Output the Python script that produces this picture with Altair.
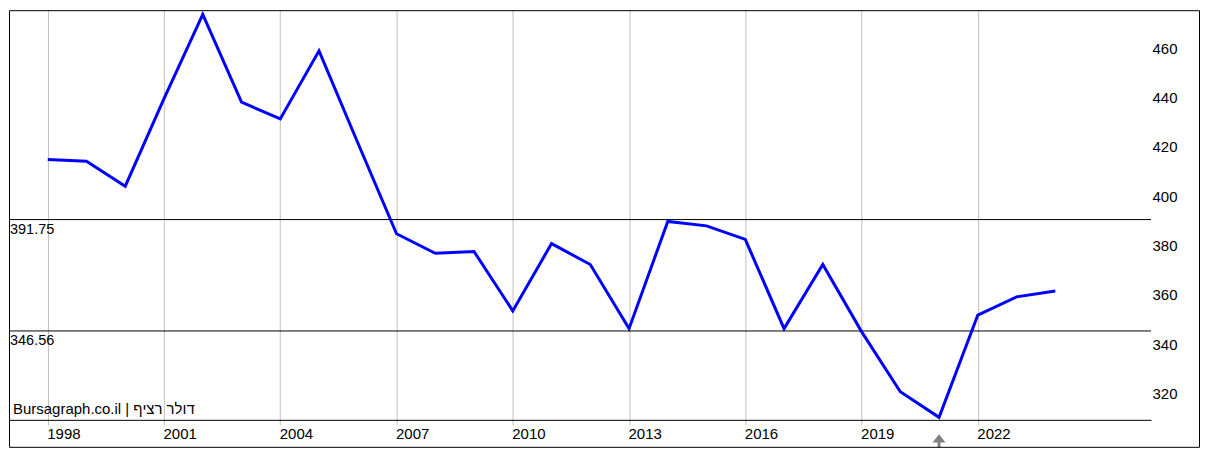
import altair as alt
import pandas as pd

# ---- data ----
years = list(range(1998, 2025))
values = [416.1, 415.4, 405.3, 440.8, 475.0, 439.4, 432.6, 460.2, 422.9,
          386.0, 378.1, 378.8, 354.7, 382.0, 373.5, 347.5, 391.0, 389.2,
          383.7, 347.5, 373.5, 346.3, 321.9, 311.5, 353.0, 360.4, 362.8]
ref_levels = [391.75, 346.56]
ref_texts = ["391.75", "346.56"]
x_ticks = [1998, 2001, 2004, 2007, 2010, 2013, 2016, 2019, 2022]
y_ticks = [320, 340, 360, 380, 400, 420, 440, 460]
marker_year = [2021]
watermark = ["Bursagraph.co.il | דולר רציף"]

W, H = 1143, 410
TOTAL_W, TOTAL_H = 1192, 438
FONT = "Liberation Sans"
GRID = "#c4c0b8"

df = pd.DataFrame({"year": years, "value": values})
refs = pd.DataFrame({"level": ref_levels, "label": ref_texts})
mk = pd.DataFrame({"year": marker_year})
wm = pd.DataFrame({"t": watermark})
box = pd.DataFrame({"k": [0]})

x_scale = alt.Scale(domain=[1997, 2026.47], nice=False, zero=False)
y_scale = alt.Scale(domain=[310.5, 476.7], nice=False, zero=False)

x_axis = alt.Axis(values=x_ticks, format="d", title=None, grid=True,
                  gridColor=GRID, gridWidth=1, domainColor="black",
                  domainWidth=1, tickColor=GRID, tickSize=5,
                  labelAlign="left", labelBaseline="top", labelPadding=2,
                  labelFont=FONT, labelFontSize=15, labelColor="black",
                  labelFlush=False, labelOverlap=False, labelOffset=-1)
y_axis = alt.Axis(orient="right", values=y_ticks, title=None, grid=False,
                  domain=False, ticks=False, labelPadding=1,
                  labelFont=FONT, labelFontSize=15, labelColor="black",
                  labelOffset=-3, labelAlign="left", labelBaseline="middle")

X = lambda f: alt.X(f, scale=x_scale, axis=x_axis, title=None)
Y = lambda f: alt.Y(f, scale=y_scale, axis=y_axis, title=None)

line = alt.Chart(df).mark_line(color="#0000ff", strokeWidth=3).encode(
    x=X("year:Q"), y=Y("value:Q"))

rules = alt.Chart(refs).mark_rule(color="black", strokeWidth=1).encode(
    y=Y("level:Q"))

ref_lbl = alt.Chart(refs).mark_text(
    align="left", baseline="top", dy=3, dx=-2, font=FONT, fontSize=14.5,
    color="black").encode(x=alt.value(3), y=Y("level:Q"), text="label:N")

wm_txt = alt.Chart(wm).mark_text(
    align="left", baseline="alphabetic", font=FONT, fontSize=15,
    color="black").encode(x=alt.value(4), y=alt.value(H - 6), text="t:N")

arrow_path = "M0,-1 L1,0.25 L0.23,0.25 L0.23,1 L-0.23,1 L-0.23,0.25 L-1,0.25 Z"
arrow = alt.Chart(mk).mark_point(
    shape=arrow_path, size=169, filled=True, color="#808080",
    opacity=1).encode(x=X("year:Q"), y=alt.value(H + 21))

border = alt.Chart(box).mark_rect(
    fillOpacity=0, stroke="black", strokeWidth=1).encode(
    x=alt.value(0.5), x2=alt.value(TOTAL_W - 0.5),
    y=alt.value(0.5), y2=alt.value(TOTAL_H - 0.5))

chart = alt.layer(rules, line, ref_lbl, wm_txt, arrow, border).properties(
    width=W, height=H, padding=0, background="white"
).configure_view(strokeWidth=0)

chart.save("out.html", embed_options={"renderer": "svg", "actions": False})
